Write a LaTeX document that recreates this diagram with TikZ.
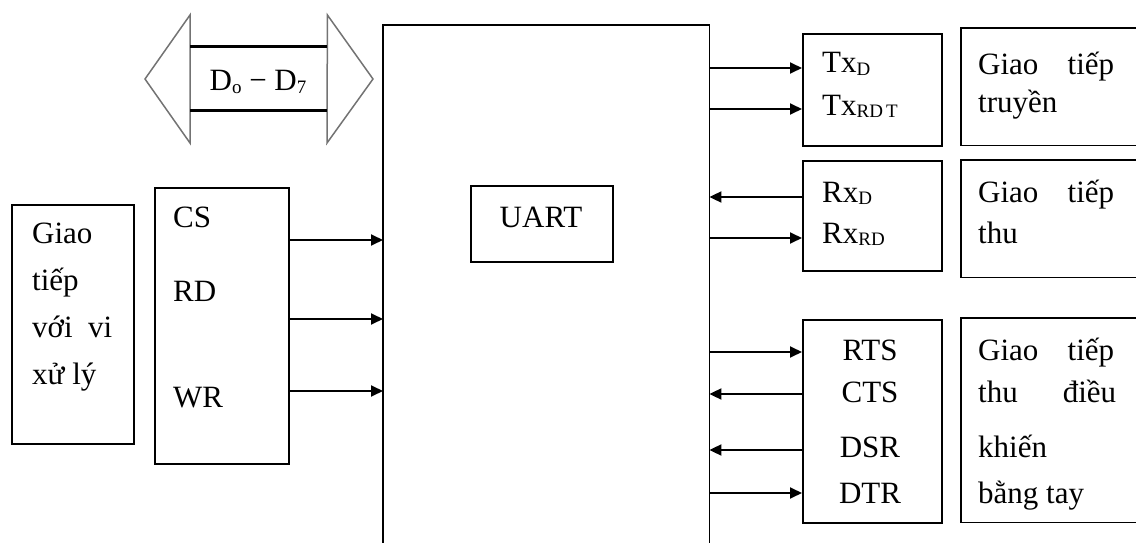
\documentclass[tikz,border=0pt]{standalone}
\usepackage{fontspec}
\setmainfont{Liberation Serif}
\usetikzlibrary{arrows.meta}
\newcommand\subs[1]{\raisebox{-2.5pt}{\fontsize{19}{19}\selectfont #1}}
\tikzset{
  box/.style={draw, line width=1.8pt, rectangle, inner sep=0pt, anchor=north west},
  area/.style={rectangle, inner sep=0pt, anchor=north west},
  edge/.style={line width=1.8pt},
  arr/.style={line width=1.8pt, -{Triangle[length=12pt,width=11pt]}},
  busline/.style={line width=1.5pt, draw=black!55},
  busedge/.style={line width=3pt},
  txt/.style={anchor=base west, inner sep=0pt, font=\fontsize{31}{35}\selectfont},
  ctxt/.style={anchor=base, inner sep=0pt, font=\fontsize{31}{35}\selectfont},
}
\begin{document}
\begin{tikzpicture}[x=1pt,y=-1pt]
\useasboundingbox (0,0) rectangle (1136,543);
% processor interface box
\node[box, minimum width=122pt, minimum height=239pt] (proc) at (11,204) {};
\node[txt] (p1) at (32,243) {Giao};
\node[txt] (p2) at (32,290) {tiếp};
\node[txt] (p3) at (32,337) {\makebox[80pt][s]{với vi}};
\node[txt] (p4) at (32,384) {xử lý};
% control signals box
\node[box, minimum width=134pt, minimum height=276pt] (cs) at (154,187) {};
\node[txt] (t1) at (173,227) {CS};
\node[txt] (t2) at (173,301) {RD};
\node[txt] (t3) at (173,407) {WR};
% data bus
\node[area, minimum width=137pt, minimum height=63pt] (bus) at (190,47) {};
\draw[busline] (bus.north west) ++(0,-32) coordinate (bl1) -- (145,79) coordinate (bltip) -- (190,143) coordinate (bl2) -- cycle;
\draw[busline] (bus.north east) ++(0,-32) coordinate (br1) -- (373,79) coordinate (brtip) -- (327,143) coordinate (br2) -- cycle;
\draw[busedge] (bus.north west) -- (bus.north east);
\draw[busedge] (bus.south west) -- (bus.south east);
\node[ctxt] (dt) at (258,91) {D\subs{o} \symbol{"2212} D\subs{7}};
% UART
\node[area, minimum width=326pt, minimum height=530pt] (uart) at (383,25) {};
\draw[edge] (uart.south west) -- (uart.north west) -- (uart.north east) -- (uart.south east);
\node[box, minimum width=142pt, minimum height=76pt] (uc) at (470,185) {};
\node[ctxt] (ut) at (541,227) {UART};
% left arrows
\draw[arr] (cs.east |- 0,240) -- (uart.west |- 0,240);
\draw[arr] (cs.east |- 0,319) -- (uart.west |- 0,319);
\draw[arr] (cs.east |- 0,391) -- (uart.west |- 0,391);
% right signal boxes
\node[box, minimum width=139pt, minimum height=112pt] (tx) at (802,33) {};
\node[txt] (tx1) at (822,73) {Tx\subs{D}};
\node[txt] (tx2) at (822,115) {Tx\subs{RD\,T}};
\node[box, minimum width=139pt, minimum height=110pt] (rx) at (802,160) {};
\node[txt] (rx1) at (822,202) {Rx\subs{D}};
\node[txt] (rx2) at (822,243) {Rx\subs{RD}};
\node[box, minimum width=139pt, minimum height=203pt] (hs) at (802,319) {};
\node[ctxt] (h1) at (870,360) {RTS};
\node[ctxt] (h2) at (870,402) {CTS};
\node[ctxt] (h3) at (870,457) {DSR};
\node[ctxt] (h4) at (870,503) {DTR};
% right arrows
\draw[arr] (uart.east |- 0,68) -- (tx.west |- 0,68);
\draw[arr] (uart.east |- 0,109) -- (tx.west |- 0,109);
\draw[arr] (rx.west |- 0,197) -- (uart.east |- 0,197);
\draw[arr] (uart.east |- 0,238) -- (rx.west |- 0,238);
\draw[arr] (uart.east |- 0,352) -- (hs.west |- 0,352);
\draw[arr] (hs.west |- 0,394) -- (uart.east |- 0,394);
\draw[arr] (hs.west |- 0,450) -- (uart.east |- 0,450);
\draw[arr] (uart.east |- 0,493) -- (hs.west |- 0,493);
% right description boxes (open on the right)
\node[area, minimum width=180pt, minimum height=117pt] (d1) at (961,28) {};
\draw[edge] (d1.north east) -- (d1.north west) -- (d1.south west) -- (d1.south east);
\node[txt] (d1a) at (978,75) {\makebox[136pt][s]{Giao tiếp}};
\node[txt] (d1b) at (978,113) {truyền};
\node[area, minimum width=180pt, minimum height=117pt] (d2) at (961,160) {};
\draw[edge] (d2.north east) -- (d2.north west) -- (d2.south west) -- (d2.south east);
\node[txt] (d2a) at (978,202) {\makebox[136pt][s]{Giao tiếp}};
\node[txt] (d2b) at (978,243) {thu};
\node[area, minimum width=180pt, minimum height=204pt] (d3) at (961,318) {};
\draw[edge] (d3.north east) -- (d3.north west) -- (d3.south west) -- (d3.south east);
\node[txt] (d3a) at (978,360) {\makebox[136pt][s]{Giao tiếp}};
\node[txt] (d3b) at (978,402) {\makebox[138pt][s]{thu điều}};
\node[txt] (d3c) at (978,457) {khiến};
\node[txt] (d3d) at (978,503) {bằng tay};
\end{tikzpicture}
\end{document}
